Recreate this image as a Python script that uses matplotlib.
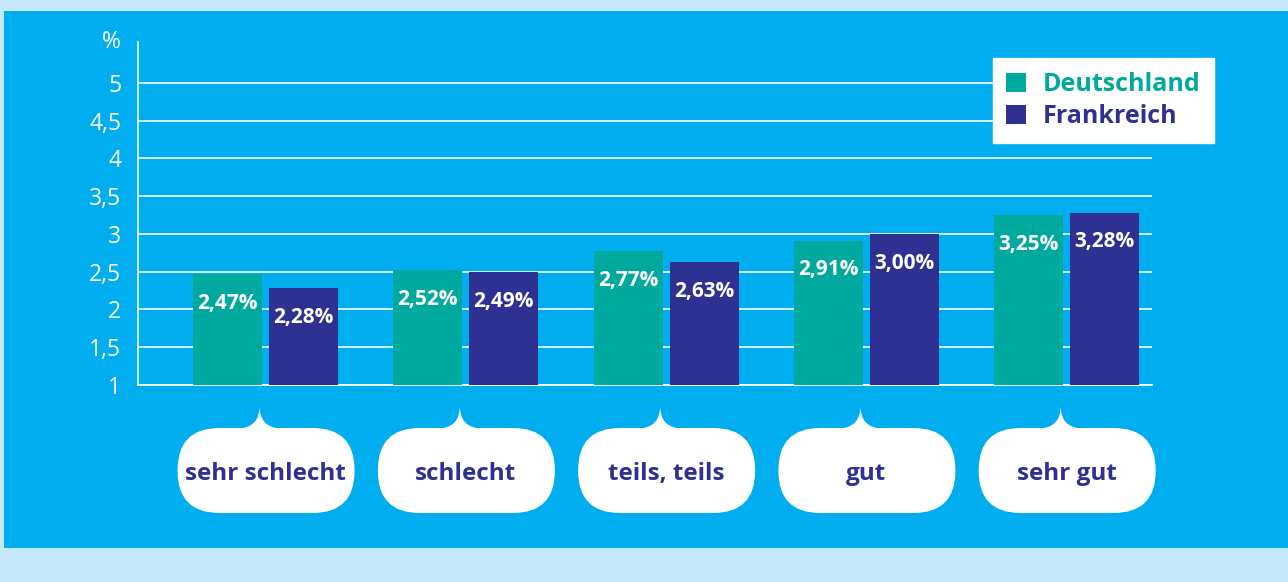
import numpy as np
import matplotlib
matplotlib.use('Agg')
import matplotlib.pyplot as plt
from matplotlib.patches import Rectangle, FancyBboxPatch, PathPatch
from matplotlib.path import Path

plt.rcParams['font.family'] = ['Open Sans', 'DejaVu Sans']

# Daten
kategorien = ['sehr schlecht', 'schlecht', 'teils, teils', 'gut', 'sehr gut']
deutschland = [2.47, 2.52, 2.77, 2.91, 3.25]
frankreich = [2.28, 2.49, 2.63, 3.00, 3.28]
serien = ['Deutschland', 'Frankreich']
y_ticks = [1, 1.5, 2, 2.5, 3, 3.5, 4, 4.5, 5]

HELLBLAU = '#c5e8f8'
BLAU = '#00aeef'
TEAL = '#00a99d'
LILA = '#2e3192'

W, H = 1288, 582
fig = plt.figure(figsize=(W / 100, H / 100), dpi=100)
fig.patch.set_facecolor(HELLBLAU)

# Hintergrund-Achse in Pixelkoordinaten
bg = fig.add_axes([0, 0, 1, 1], zorder=0)
bg.set_xlim(0, W)
bg.set_ylim(0, H)
bg.axis('off')
bg.add_patch(Rectangle((4, H - 548), W - 4, 548 - 11, color=BLAU, lw=0))

ax = fig.add_axes([138 / W, (H - 385) / H, (1152 - 138) / W, (385 - 42) / H], zorder=1)
ax.patch.set_alpha(0)

x = np.arange(len(kategorien))
bw = 0.345
off = 0.19
b1 = ax.bar(x - off, deutschland, bw, bottom=0, color=TEAL, zorder=3, label=serien[0])
b2 = ax.bar(x + off, frankreich, bw, bottom=0, color=LILA, zorder=3, label=serien[1])

for bars, vals in ((b1, deutschland), (b2, frankreich)):
    for r, v in zip(bars, vals):
        ax.annotate(('%.2f%%' % v).replace('.', ','), xy=(r.get_x() + r.get_width() / 2, v),
                    xytext=(0, -21), textcoords='offset points', ha='center', va='center',
                    color='white', fontsize=15, fontweight='bold', zorder=4)

ax.set_xlim(-0.637, 4.426)
ax.set_ylim(1, 5.54)
ax.set_yticks(y_ticks)
ax.set_yticklabels([('%g' % t).replace('.', ',') for t in y_ticks])
ax.set_xticks([])
ax.tick_params(axis='y', length=0, pad=12, labelsize=16.5, labelcolor='white')
ax.grid(axis='y', color='white', lw=1.3, alpha=0.9, zorder=1)
for s in ['top', 'right']:
    ax.spines[s].set_visible(False)
ax.spines['left'].set_color('white')
ax.spines['left'].set_alpha(0.85)
ax.spines['bottom'].set_color('white')
ax.spines['left'].set_linewidth(1.3)
ax.spines['bottom'].set_linewidth(1.3)
ax.text(-0.017, 1.0, '%', transform=ax.transAxes, ha='right', va='center',
        color='white', fontsize=16.5)

leg = ax.legend(loc='upper right', bbox_to_anchor=(1214 / W, (H - 58) / H),
                bbox_transform=fig.transFigure, borderaxespad=0, frameon=True,
                fancybox=False, facecolor='white', edgecolor='white', framealpha=1,
                handlelength=0.8, handleheight=0.8, handletextpad=0.65,
                labelspacing=0.3, borderpad=0.55, labelcolor=[TEAL, LILA],
                prop={'weight': 'bold', 'size': 18})

# Sprechblasen unter den Kategorien
fig.canvas.draw()
for i, k in enumerate(kategorien):
    cx = ax.transData.transform((i, 1))[0]
    bx, by, bwid, bh = cx - 88, H - 513, 177, 85
    bg.add_patch(FancyBboxPatch((bx, by), bwid, bh,
                                boxstyle='round,pad=0,rounding_size=42',
                                fc='white', ec='none'))
    tx = cx - 6
    top = by + bh
    verts = [(tx - 24, top - 1), (tx - 6, top), (tx, top + 8), (tx, top + 23),
             (tx, top + 8), (tx + 6, top), (tx + 24, top - 1), (tx - 24, top - 1)]
    codes = [Path.MOVETO, Path.CURVE4, Path.CURVE4, Path.CURVE4,
             Path.CURVE4, Path.CURVE4, Path.CURVE4, Path.CLOSEPOLY]
    bg.add_patch(PathPatch(Path(verts, codes), fc='white', ec='none'))
    bg.text(cx, H - 474, k, ha='center', va='center', color=LILA,
            fontsize=17.5, fontweight='bold')

fig.savefig('out.png', dpi=100, facecolor=fig.get_facecolor())
